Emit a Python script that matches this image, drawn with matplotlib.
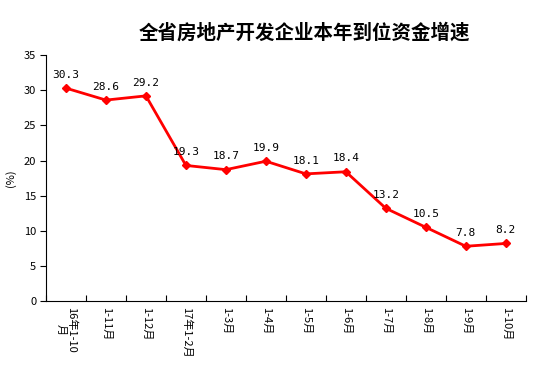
import matplotlib
matplotlib.use("Agg")
import matplotlib.pyplot as plt

plt.rcParams['font.family'] = ['Noto Sans CJK SC', 'DejaVu Sans']

categories = ["16年1-10\n月", "1-11月", "1-12月", "17年1-2月", "1-3月", "1-4月",
              "1-5月", "1-6月", "1-7月", "1-8月", "1-9月", "1-10月"]
values = [30.3, 28.6, 29.2, 19.3, 18.7, 19.9, 18.1, 18.4, 13.2, 10.5, 7.8, 8.2]
title = "全省房地产开发企业本年到位资金增速"
yticks = [0, 5, 10, 15, 20, 25, 30, 35]

fig = plt.figure(figsize=(5.54, 3.88), dpi=100)
ax = fig.add_axes([0.083, 0.224, 0.866, 0.634])

x = list(range(len(values)))
ax.plot(x, values, color='#ff0000', lw=2, marker='D', ms=4.5, mec='#ff0000', mfc='#ff0000')
for xi, v in zip(x, values):
    ax.annotate(f"{v}", (xi, v), xytext=(0, 6), textcoords='offset points',
                ha='center', va='bottom', fontsize=8, family='DejaVu Sans Mono')

ax.set_xlim(-0.5, len(values) - 0.5)
ax.set_ylim(0, 35)
ax.set_yticks(yticks)
ax.set_yticklabels([str(t) for t in yticks], fontsize=8)
ax.set_xticks([i - 0.5 for i in range(len(values) + 1)], minor=False)
ax.set_xticklabels([])
ax.set_xticks(x, minor=True)
ax.set_xticklabels(categories, minor=True, rotation=270, fontsize=8, va='top', ha='center',
                   linespacing=1.0)
ax.tick_params(axis='x', which='minor', length=0, pad=4)
ax.tick_params(axis='x', which='major', length=4, direction='in')
ax.tick_params(axis='y', length=4, direction='out', pad=3)
ax.spines['top'].set_visible(False)
ax.spines['right'].set_visible(False)
ax.set_ylabel("(%)", fontsize=8, labelpad=6)
fig.text(0.55, 0.915, title, ha='center', va='center', fontsize=14, fontweight='bold')

fig.savefig("out.png", dpi=100)
